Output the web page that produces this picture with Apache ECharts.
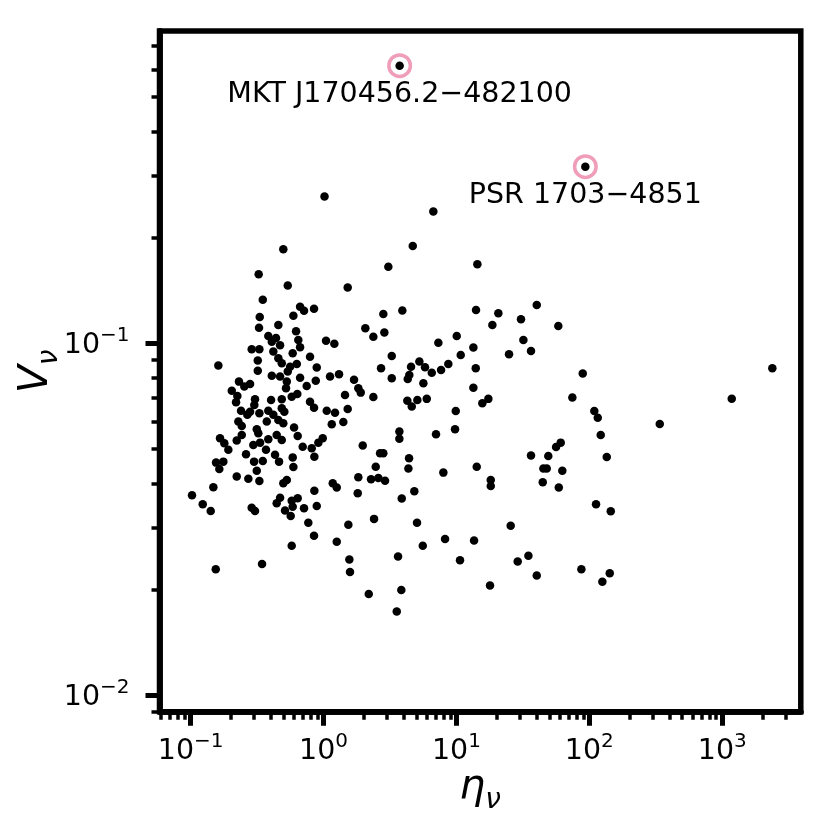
<!DOCTYPE html>
<html>
<head>
<meta charset="utf-8">
<script src="https://cdn.jsdelivr.net/npm/echarts@6/dist/echarts.min.js"></script>
<style>
  html, body { margin: 0; background: #fff; }
  #main { width: 830px; height: 830px; }
</style>
</head>
<body>
<div id="main"></div>
<script>
// eta_nu and V_nu of every source
var eta = [
  0.498, 0.325, 0.538, 1.52, 0.349, 0.666, 0.713, 0.848, 0.593, 0.331,
  0.457, 0.327, 0.621, 0.384, 0.439, 0.646, 1.044, 1.206, 0.408, 0.471,
  0.666, 0.288, 0.329, 0.419, 0.586, 0.791, 0.457, 0.320, 0.485, 0.629,
  0.1616, 0.560, 0.889, 0.320, 0.538, 0.408, 0.471, 0.666, 1.119, 1.308,
  0.874, 0.529, 0.231, 0.280, 0.2535, 0.747, 0.204, 0.522, 0.635, 0.576,
  1.451, 0.2246, 0.305, 0.485, 0.403, 0.2196, 0.3015, 0.791, 0.848, 0.485,
  0.2394, 0.280, 1.057, 1.22, 1.52, 0.329, 0.384, 0.507, 0.419, 0.267,
  0.457, 0.374, 0.2285, 0.498, 1.153, 1.409, 0.2424, 0.60, 0.3145,
  0.323, 0.384, 0.444, 0.485, 0.1664, 0.1793, 0.2222, 0.2424, 0.1922, 0.2963,
  0.333, 0.369, 0.639, 0.697, 0.815, 0.914, 0.986, 0.261, 0.4315, 0.4625,
  0.586, 0.853, 0.1553, 0.1762, 0.1644, 0.300, 0.349, 0.593, 0.3145, 0.2222,
  0.2717, 0.329, 0.498, 0.529, 1.173, 1.257, 0.1482, 0.1024, 0.853, 0.471,
  0.444, 0.576, 0.639, 0.1233, 0.1416, 0.288, 0.305, 0.513, 0.586, 0.713,
  0.889, 0.566, 0.768, 1.537, 0.848, 1.257, 0.576, 1.564, 1.582, 0.1545, 0.3445,
  6.70, 4.69, 14.37, 3.073, 40.2, 3.916, 2.818, 14.04, 20.67, 30.6,
  18.63, 58.4, 2.063, 2.37, 2.868, 10.05, 7.31, 31.9, 13.41, 10.77,
  24.87, 36.4, 3.26, 2.708, 4.554, 5.26, 5.80, 6.52, 7.66, 8.69,
  13.97, 3.26, 4.30, 4.42, 5.64, 1.696, 1.827, 1.905, 2.37, 13.41,
  4.27, 4.61, 5.08, 5.98, 15.66, 17.38, 9.88, 9.76, 3.72,
  3.72, 7.02, 1.972, 2.662, 2.818, 4.40, 4.35, 2.47, 1.827, 2.277,
  2.585, 2.903, 1.808, 3.876, 4.82, 7.97, 14.21, 18.12, 18.12, 36.4,
  49.1, 56.2, 60.9, 45.1, 47.8, 62.6, 44.6, 58.9, 2.399, 5.05,
  25.6, 8.21, 13.57, 5.58, 3.636, 10.64, 28.9, 34.8, 40.2, 2.189,
  3.849, 17.89, 3.555,
  89.2, 74.5, 109, 115.7, 121.8, 135.2, 112.3, 144.9, 87.1, 142.4,
  125.3, 338.6, 1179, 2382,
  1.017, 3.738, 93.3
];
var vnu = [
  0.185, 0.157, 0.146, 0.144, 0.133, 0.127, 0.1236, 0.1254, 0.1198, 0.1188,
  0.1127, 0.1107, 0.1082, 0.1049, 0.1035, 0.1022, 0.1017, 0.0997, 0.1010, 0.0987,
  0.0974, 0.0962, 0.0962, 0.0947, 0.0937, 0.0916, 0.0907, 0.0893, 0.0878, 0.0873,
  0.0864, 0.0858, 0.0853, 0.0835, 0.0831, 0.0809, 0.0804, 0.0798, 0.0804, 0.0817,
  0.0783, 0.0778, 0.0778, 0.0766, 0.0753, 0.0756, 0.0733, 0.0745, 0.0718, 0.0705,
  0.0713, 0.0708, 0.0693, 0.0693, 0.069, 0.068, 0.0668, 0.0682, 0.0656, 0.0654,
  0.0643, 0.0639, 0.0643, 0.0635, 0.065, 0.0633, 0.0643, 0.0639, 0.0626, 0.0626,
  0.0605, 0.0599, 0.0599, 0.0593, 0.0589, 0.0597, 0.0582, 0.0576, 0.057,
  0.0555, 0.0534, 0.0549, 0.0531, 0.0537, 0.052, 0.0529, 0.0549, 0.0498, 0.0514,
  0.0522, 0.0498, 0.0545, 0.0508, 0.0503, 0.0522, 0.0537, 0.0484, 0.0482, 0.0461,
  0.0474, 0.0476, 0.0458, 0.0461, 0.0439, 0.0461, 0.0463, 0.0445, 0.0434, 0.0418,
  0.0412, 0.0406, 0.040, 0.0409, 0.040, 0.0389, 0.039, 0.037, 0.0381, 0.0364,
  0.0351, 0.0357, 0.0363, 0.0349, 0.0334, 0.0341, 0.0334, 0.0335, 0.0343, 0.034,
  0.0345, 0.0323, 0.0309, 0.0305, 0.0284, 0.0273, 0.0266, 0.0243, 0.0224, 0.0228, 0.0236,
  0.2366, 0.189, 0.1676, 0.165, 0.1285, 0.1238, 0.1211, 0.1243, 0.1216, 0.117,
  0.1127, 0.112, 0.1103, 0.1044, 0.1072, 0.1049, 0.1004, 0.1022, 0.0972, 0.0926,
  0.093, 0.0951, 0.092, 0.0849, 0.0858, 0.0887, 0.0855, 0.0825, 0.084, 0.0873,
  0.0849, 0.0795, 0.0791, 0.0813, 0.077, 0.0787, 0.0745, 0.0724, 0.0704, 0.0748,
  0.0686, 0.0661, 0.069, 0.0695, 0.0675, 0.0695, 0.0642, 0.057, 0.0561,
  0.0535, 0.0551, 0.0512, 0.0487, 0.0487, 0.0471, 0.0441, 0.0446, 0.0416, 0.0411,
  0.0414, 0.0407, 0.0375, 0.0362, 0.038, 0.0429, 0.0446, 0.0409, 0.0393, 0.048,
  0.0478, 0.0507, 0.0522, 0.0441, 0.0441, 0.0434, 0.0403, 0.0389, 0.0317, 0.0309,
  0.0303, 0.0278, 0.0275, 0.0266, 0.0248, 0.0242, 0.024, 0.0249, 0.0219, 0.0194,
  0.0199, 0.0205, 0.0173,
  0.082, 0.0701, 0.0642, 0.0614, 0.0549, 0.0475, 0.0349, 0.0333, 0.0228, 0.0222,
  0.021, 0.059, 0.0696, 0.0849,
  0.261, 0.6145, 0.3174
];

// the two sources that are circled and named
var markNames = ['MKT J170456.2−482100', 'PSR 1703−4851'];
var markEta = [3.738, 93.3];
var markV = [0.6145, 0.3174];

// axes
var xRange = [0.0583, 3900];
var yRange = [0.00898, 0.771];
var xMajor = [0.1, 1, 10, 100, 1000];
var xMinor = [0.06, 0.07, 0.08, 0.09,
  0.2, 0.3, 0.4, 0.5, 0.6, 0.7, 0.8, 0.9,
  2, 3, 4, 5, 6, 7, 8, 9,
  20, 30, 40, 50, 60, 70, 80, 90,
  200, 300, 400, 500, 600, 700, 800, 900,
  2000, 3000];
var yMajor = [0.01, 0.1];
var yMinor = [0.009, 0.02, 0.03, 0.04, 0.05, 0.06, 0.07, 0.08, 0.09,
  0.2, 0.3, 0.4, 0.5, 0.6, 0.7];

var lg = function (v) { return Math.log10(v); };
var font = 'DejaVu Sans';

function powLabel(v) {
  var e = Math.round(v);
  return '{n|10}{s|' + (e < 0 ? '−' + (-e) : e) + '}';
}
var tickRich = {
  n: { fontSize: 28.5, fontFamily: font, color: '#000', lineHeight: 34, verticalAlign: 'bottom' },
  s: { fontSize: 20, fontFamily: font, color: '#000', lineHeight: 20, verticalAlign: 'top' }
};
var nameRich = {
  a: { fontSize: 41, fontFamily: font, fontStyle: 'italic', color: '#000', lineHeight: 48, verticalAlign: 'top' },
  b: { fontSize: 28, fontFamily: font, fontStyle: 'italic', color: '#000', lineHeight: 28, verticalAlign: 'bottom' }
};

function majorAxis(range, ticks, extra) {
  var ax = {
    type: 'value',
    min: lg(range[0]),
    max: lg(range[1]),
    splitLine: { show: false },
    axisLine: { show: true, onZero: false, lineStyle: { color: '#000', width: 5.5 } },
    axisTick: { show: true, inside: false, customValues: ticks.map(lg), length: 14,
      lineStyle: { color: '#000', width: 5 } },
    axisLabel: { customValues: ticks.map(lg), formatter: powLabel, rich: tickRich }
  };
  return Object.assign(ax, extra);
}
function minorAxis(range, ticks, pos) {
  return {
    type: 'value',
    position: pos,
    min: lg(range[0]),
    max: lg(range[1]),
    splitLine: { show: false },
    axisLine: { show: true, onZero: false, lineStyle: { color: '#000', width: 5.5 } },
    axisTick: { show: true, inside: false, customValues: ticks.map(lg), length: 8,
      lineStyle: { color: '#000', width: 3.5 } },
    axisLabel: { show: false }
  };
}

var xAx0 = majorAxis(xRange, xMajor, {
  position: 'bottom',
  name: '{a|η}{b|ν}', nameLocation: 'middle', nameGap: 55, nameMoveOverlap: false,
  nameTextStyle: { rich: nameRich }
});
xAx0.axisLabel.margin = 20;
var yAx0 = majorAxis(yRange, yMajor, {
  position: 'left',
  name: '{a|V}{b|ν}', nameLocation: 'middle', nameGap: 96, nameMoveOverlap: false,
  nameTextStyle: { rich: nameRich }
});
yAx0.axisLabel.margin = 30;

var chart = echarts.init(document.getElementById('main'));
chart.setOption({
  animation: false,
  backgroundColor: '#fff',
  grid: { left: 159.5, top: 31, width: 641.3, height: 680.7, show: true,
    borderColor: '#000', borderWidth: 5.5, backgroundColor: 'transparent' },
  xAxis: [xAx0, minorAxis(xRange, xMinor, 'bottom')],
  yAxis: [yAx0, minorAxis(yRange, yMinor, 'left')],
  series: [
    {
      type: 'scatter',
      xAxisIndex: 0, yAxisIndex: 0,
      symbolSize: 8.5,
      itemStyle: { color: '#000', opacity: 1 },
      data: eta.map(function (e, i) { return [lg(e), lg(vnu[i])]; }),
      z: 3
    },
    {
      type: 'scatter',
      xAxisIndex: 0, yAxisIndex: 0,
      symbolSize: 21.5,
      itemStyle: { color: 'rgba(0,0,0,0)', borderColor: '#f09db9', borderWidth: 3.5, opacity: 1 },
      data: markNames.map(function (n, i) {
        return { name: n, value: [lg(markEta[i]), lg(markV[i])] };
      }),
      label: { show: true, formatter: '{b}', position: 'inside', offset: [0, 29],
        fontSize: 28.5, fontFamily: font, color: '#000', opacity: 1 },
      z: 4
    }
  ]
});
</script>
</body>
</html>
